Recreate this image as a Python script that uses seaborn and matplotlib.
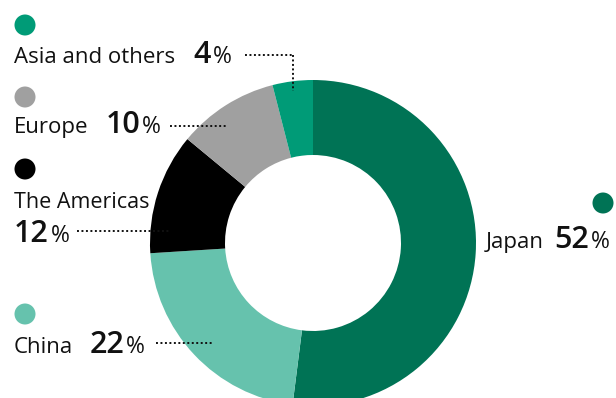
import matplotlib
matplotlib.use("Agg")
import matplotlib.pyplot as plt
import seaborn as sns

sns.set_theme(style="white")
plt.rcParams["font.family"] = ["Open Sans", "DejaVu Sans"]

# Sales share by region
regions = ["Japan", "China", "The Americas", "Europe", "Asia and others"]
shares = [52, 22, 12, 10, 4]
colors = ["#007355", "#66C2AD", "#000000", "#A0A0A0", "#009B77"]

W, H = 616, 398
fig = plt.figure(figsize=(W / 100, H / 100), dpi=100)
ax = fig.add_axes([0, 0, 1, 1])

# Donut in pixel-space axes with inverted y: start at the top, run clockwise
cx, cy, r_out, r_in = 313, 243, 163, 88
ax.pie(shares, colors=colors, startangle=-90, counterclock=True,
       center=(cx, cy), radius=r_out, frame=True,
       wedgeprops=dict(width=r_out - r_in, linewidth=0))
ax.set_xlim(0, W)
ax.set_ylim(H, 0)
ax.set_aspect("equal")
ax.axis("off")

fig.canvas.draw()
renderer = fig.canvas.get_renderer()
inv = ax.transData.inverted()

INK = "#111111"
NAME_SIZE = 16


def text_right(t):
    bb = t.get_window_extent(renderer)
    return inv.transform((bb.x1, bb.y0))[0]


def number_parts(x, y, value):
    n = ax.text(x, y, str(value), fontsize=22, fontweight="semibold",
                color=INK, ha="left", va="baseline")
    px = text_right(n) + 2
    p = ax.text(px, y, "%", fontsize=16.5, color=INK, ha="left", va="baseline")
    return text_right(p)


def label_parts(x, y, name, value, name_gap=14):
    t = ax.text(x, y, name, fontsize=NAME_SIZE, color=INK, ha="left", va="baseline")
    return number_parts(text_right(t) + name_gap, y, value)


dot_style = dict(linestyle=(0, (1, 1.3)), color=INK, linewidth=1.4)
dot_r = 10.5

# Asia and others
ax.add_patch(plt.Circle((25, 25), dot_r, color=colors[4], lw=0))
label_parts(14, 63, regions[4], shares[4], name_gap=18)
ax.plot([245, 293], [55, 55], **dot_style)
ax.plot([293, 293], [55, 91], **dot_style)

# Europe
ax.add_patch(plt.Circle((25, 97), dot_r, color=colors[3], lw=0))
label_parts(14, 133, regions[3], shares[3], name_gap=17)
ax.plot([170, 227], [126, 126], **dot_style)

# The Americas
ax.add_patch(plt.Circle((25, 169), dot_r, color=colors[2], lw=0))
ax.text(14, 208, regions[2], fontsize=NAME_SIZE - 0.5, color=INK, ha="left", va="baseline")
number_parts(14, 242, shares[2])
ax.plot([77, 170], [231, 231], **dot_style)

# China
ax.add_patch(plt.Circle((25, 314), dot_r, color=colors[1], lw=0))
label_parts(14, 353, regions[1], shares[1], name_gap=16)
ax.plot([156, 213], [343, 343], **dot_style)

# Japan
ax.add_patch(plt.Circle((603, 203), dot_r, color=colors[0], lw=0))
label_parts(486, 248, regions[0], shares[0], name_gap=10)

fig.savefig("out.png", dpi=100)
